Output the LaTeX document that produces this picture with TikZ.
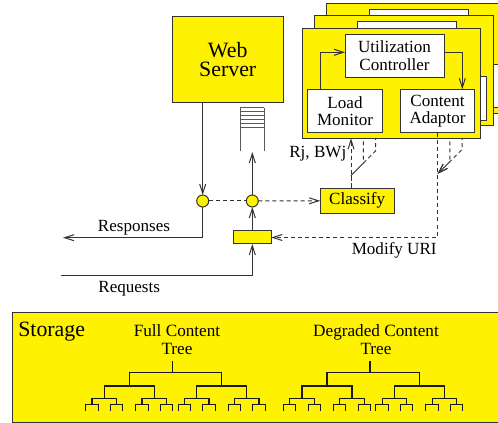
\documentclass[tikz,border=0pt]{standalone}
\usepackage{fontspec}
\setmainfont{Liberation Serif}
\usetikzlibrary{arrows.meta,calc}
\def\u{0.75pt}
\newif\ifshowtext
\newcommand\assembly[3]{%
 \begin{scope}[shift={(#1,#2)}]
  \node[ybox, minimum width=178.4*\u, minimum height=110*\u] (out#3) at (391.5,83.3) {};
  \ifshowtext
  \node[wbox, txt, minimum width=99*\u, minimum height=43*\u] (UC#3) at (394.5,55.8) {Utilization\\Controller};
  \node[wbox, txt, minimum width=74.6*\u, minimum height=43.4*\u] (LM#3) at (345,111) {Load\\Monitor};
  \node[wbox, txt, minimum width=73.6*\u, minimum height=43.4*\u] (CA#3) at (437.5,111) {Content\\Adaptor};
  \draw[arr] ([xshift=-24.3*\u]LM#3.north) |- ([yshift=3.5*\u]UC#3.west);
  \draw[arr] ([yshift=3.5*\u]UC#3.east) -| ([xshift=-12*\u]CA#3.north east);
  \else
  \node[wbox, minimum width=99*\u, minimum height=43*\u] (UC#3) at (394.5,55.8) {};
  \node[wbox, minimum width=74.6*\u, minimum height=43.4*\u] (LM#3) at (345,111) {};
  \node[wbox, minimum width=73.6*\u, minimum height=43.4*\u] (CA#3) at (437.5,111) {};
  \fi
 \end{scope}}
\newcommand\drawtree[1]{%
 \draw[tline] (#1,361.7) -- (#1,372.7) ({#1-43},372.7) -- ({#1+49.4},372.7);
 \foreach \la in {-43,49.4}{
   \draw[tline] ({#1+\la},372.7) -- ({#1+\la},386) ({#1+\la-25},386) -- ({#1+\la+25},386);
   \foreach \lb in {-25,25}{
     \draw[tline] ({#1+\la+\lb},386) -- ({#1+\la+\lb},398.3) ({#1+\la+\lb-12.3},398.3) -- ({#1+\la+\lb+12.3},398.3);
     \foreach \lc in {-12.3,12.3}{
       \draw[tline] ({#1+\la+\lb+\lc},398.3) -- ({#1+\la+\lb+\lc},404.5)
         ({#1+\la+\lb+\lc-6.2},410) |- ({#1+\la+\lb+\lc+6.2},404.5) -- ({#1+\la+\lb+\lc+6.2},410);
     }}}}
\begin{document}
\begin{tikzpicture}[x=0.75pt,y=-0.75pt,
  ln/.style={draw=black!80, line width=0.75pt},
  ybox/.style={ln, fill=yellow, inner sep=0pt, outer sep=0pt},
  wbox/.style={ln, fill=white, inner sep=0pt, outer sep=0pt},
  arr/.style={ln, -{Straight Barb[length=7pt,width=4.5pt]}},
  dsh/.style={ln, dash pattern=on 3pt off 2.3pt},
  qline/.style={draw=black!65, line width=0.75pt},
  tline/.style={draw=black!90, line width=0.8pt, line cap=rect},
  txt/.style={font=\fontsize{12.8}{13.1}\selectfont, align=center, inner sep=0pt}
]
\useasboundingbox (0,0) rectangle (498,423);

% stacked controller assemblies (back to front)
\showtextfalse
\assembly{24.6}{-25}{c}
\assembly{12.3}{-12.5}{b}
\coordinate (m1) at (351,175.5);
\coordinate (m2) at (437.5,174);
\draw[dsh] ([xshift=6*\u]LMb.south) -- ($(m1)+(12.3,-12.3)$) -- (m1);
\draw[dsh] ([xshift=6*\u]LMc.south) -- ($(m1)+(24.6,-24.6)$) -- (m1);
\draw[dsh,arr] (CAb.south) -- ($(m2)+(12.3,-12.3)$) -- (m2);
\draw[dsh,arr] (CAc.south) -- ($(m2)+(24.6,-24.6)$) -- (m2);
\showtexttrue
\assembly{0}{0}{a}

% web server and queue
\node[ybox, minimum width=111*\u, minimum height=86.7*\u, font=\fontsize{16.4}{14.6}\selectfont, align=center] (ws) at (227.7,59.5) {Web\\Server};
\foreach \yy in {108,112,116,120,124,127.5}
  \draw[qline] (240,\yy) -- (264.3,\yy);
\draw[qline] (240,108) -- (240,151) (264.3,108) -- (264.3,151);
\coordinate (qb) at (252.3,152);

% small elements
\node[circle, ybox, minimum size=12*\u] (c1) at (202.7,201) {};
\node[circle, ybox, minimum size=12*\u] (c2) at (252.3,201) {};
\node[ybox, minimum width=38*\u, minimum height=13*\u] (mr) at (252.3,237.5) {};
\node[ybox, txt, minimum width=74*\u, minimum height=25*\u] (cls) at (357.2,200.8) {Classify};

% solid connectors
\coordinate (respEnd) at (63,237.7);
\coordinate (reqStart) at (61,275);
\draw[arr] (ws.south -| c1) -- (c1.north);
\draw[arr] (c1.south) |- (respEnd);
\draw[arr] (reqStart) -| (mr.south);
\draw[arr] (mr.north) -- (c2.south);
\draw[arr] (c2.north) -- (qb);

% dashed connectors
\draw[dsh] (c1.east) -- (c2.west);
\draw[dsh,arr] (c2.east) -- (cls.west);
\draw[dsh,arr] ([xshift=-6.2*\u]cls.north) -- ([xshift=-6.2*\u]cls.north |- outa.south);
\draw[dsh] (m1) -- ([xshift=-6.2*\u]cls.north);
\draw[dsh,arr] (CAa.south) |- (mr.east);

% labels
\node[txt, anchor=base] (lresp) at (134,231.7) {Responses};
\node[txt, anchor=base] (lreq) at (129.2,292.5) {Requests};
\node[txt, anchor=base] (lrj) at (317.8,157.3) {Rj, BWj};
\node[txt, anchor=base] (lmod) at (394.2,254.3) {Modify URI};

% storage
\node[ybox, minimum width=493*\u, minimum height=110.3*\u] (stor) at (258.5,367.15) {};
\node[anchor=base west, font=\fontsize{16.4}{18}\selectfont, inner sep=0pt] (lstor) at (18,336.7) {Storage};
\node[txt, font=\fontsize{12.9}{13.3}\selectfont] (lfull) at (177,339.8) {Full Content\\Tree};
\node[txt, font=\fontsize{12.9}{13.3}\selectfont] (ldeg) at (376,339.8) {Degraded Content\\Tree};
\drawtree{172.3}
\drawtree{370}
\end{tikzpicture}
\end{document}
